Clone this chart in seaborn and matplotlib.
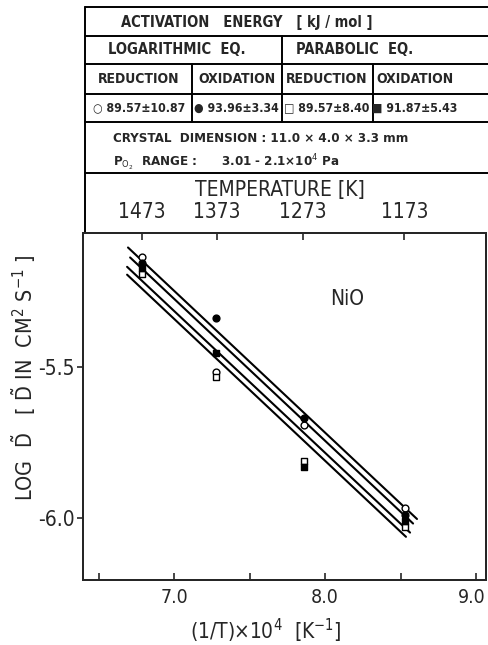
import numpy as np
import matplotlib
matplotlib.use('Agg')
import matplotlib.pyplot as plt
import seaborn as sns
from matplotlib.ticker import FixedLocator
from matplotlib.transforms import ScaledTranslation

# inverse temperature (1/T)x10^4 of the four runs
inv_t = [6.79, 7.28, 7.86, 8.53]
temps_top = [1473, 1373, 1273, 1173]

# log D values
log_red = [-5.136, -5.517, -5.692, -5.967]    # open circle
log_oxi = [-5.156, -5.338, -5.669, -5.990]    # filled circle
par_red = [-5.192, -5.533, -5.811, -6.030]    # open square
par_oxi = [-5.172, -5.454, -5.831, -6.010]    # filled square

# fitted lines: (x0, x1, y0, y1)
fit_lines = [
    (6.695, 8.609, -5.104, -6.003),
    (6.709, 8.583, -5.137, -6.018),
    (6.689, 8.563, -5.168, -6.048),
    (6.689, 8.536, -5.194, -6.062),
]

sns.set_style('ticks')
plt.rcParams['font.family'] = ['DejaVu Sans']
plt.rcParams['font.stretch'] = 'condensed'
plt.rcParams['mathtext.fontset'] = 'custom'
plt.rcParams['mathtext.rm'] = 'DejaVu Sans:stretch=condensed'
plt.rcParams['mathtext.it'] = 'DejaVu Sans:stretch=condensed:style=oblique'
plt.rcParams['mathtext.bf'] = 'DejaVu Sans:stretch=condensed:weight=bold'
plt.rcParams['axes.unicode_minus'] = False

W, H = 488, 645
fig = plt.figure(figsize=(W / 100, H / 100), dpi=100)

# overlay in pixel coords for the table header
ov = fig.add_axes([0, 0, 1, 1])
ov.set_xlim(0, W)
ov.set_ylim(H, 0)
ov.axis('off')

L, R, T, B = 83, 486, 233, 580
ax = fig.add_axes([L / W, 1 - B / H, (R - L) / W, (B - T) / H])
ax.set_facecolor('none')

lw = 1.4
for x0, x1, y0, y1 in fit_lines:
    sns.lineplot(x=[x0, x1], y=[y0, y1], color='black', lw=1.5, ax=ax)

series = [
    (log_red, 'o', 'white'),
    (log_oxi, 'o', 'black'),
    (par_red, 's', 'white'),
    (par_oxi, 's', 'black'),
]
for vals, mk, fc in series:
    sns.scatterplot(x=inv_t, y=vals, marker=mk, s=24, facecolor=fc,
                    edgecolor='black', linewidth=1.0, ax=ax, zorder=5)

ax.set_xlim(6.397, 9.066)
ax.set_ylim(-6.205, -5.056)
ax.set_xticks([7.0, 8.0, 9.0])
ax.set_xticklabels(['7.0', '8.0', '9.0'])
ax.xaxis.set_minor_locator(FixedLocator([6.5, 7.5, 8.5]))
ax.set_yticks([-5.5, -6.0])
ax.set_yticklabels(['-5.5', '-6.0'])
ax.tick_params(axis='x', which='both', direction='in', length=5, width=1.2,
               labelsize=14, pad=6)
ax.tick_params(axis='y', direction='out', length=4, width=1.2, labelsize=15, pad=2)
for s in ax.spines.values():
    s.set_linewidth(lw)
ax.set_xlabel('')
ax.set_ylabel('')
# last label sits against the right edge, as in the scan
last = ax.get_xticklabels()[-1]
last.set_transform(last.get_transform() + ScaledTranslation(-3 / 72, 0, fig.dpi_scale_trans))

top = ax.twiny()
top.set_xlim(ax.get_xlim())
top.set_xticks([1e4 / t for t in temps_top])
top.set_xticklabels([str(t) for t in temps_top])
top.tick_params(axis='x', direction='in', length=5, width=1.2, labelsize=15, pad=8)
for s in top.spines.values():
    s.set_linewidth(lw)

ax.text(0.655, 0.81, 'NiO', transform=ax.transAxes, fontsize=15,
        ha='center', va='center')

# table header
for y in [7, 36, 64, 94, 122, 173]:
    ov.plot([85, W], [y, y], color='black', lw=lw)
ov.plot([85, 85], [7, T], color='black', lw=lw)
ov.plot([282, 282], [36, 122], color='black', lw=lw)
for x in [192, 373]:
    ov.plot([x, x], [64, 122], color='black', lw=lw)

tk = dict(ha='center', va='center', fontsize=10, fontweight='bold')
ov.text(247, 22, 'ACTIVATION   ENERGY   [ kJ / mol ]', **dict(tk, fontsize=10.5))
ov.text(177, 50, 'LOGARITHMIC  EQ.', **dict(tk, fontsize=10.5))
ov.text(355, 50, 'PARABOLIC  EQ.', **dict(tk, fontsize=10.5))
for x, s in [(139, 'REDUCTION'), (237, 'OXIDATION'), (327, 'REDUCTION'), (415, 'OXIDATION')]:
    ov.text(x, 79, s, **tk)
vk = dict(tk, fontsize=8.8)
ov.text(139, 108, '○ 89.57±10.87', **vk)
ov.text(236, 108, '● 93.96±3.34', **vk)
ov.text(327, 108, '□ 89.57±8.40', **vk)
ov.text(415, 108, '■ 91.87±5.43', **vk)
ov.text(113, 138, 'CRYSTAL  DIMENSION : 11.0 × 4.0 × 3.3 mm', ha='left', va='center',
        fontsize=9.5, fontweight='bold')
ov.text(113, 163, r'P$_{\mathrm{O_2}}$  RANGE :      3.01 - 2.1×10$^{4}$ Pa', ha='left',
        va='center', fontsize=9.5, fontweight='bold')
ov.text(280, 190, 'TEMPERATURE [K]', ha='center', va='center', fontsize=15)

ov.text(24, 378, r'LOG  $\tilde{\mathrm{D}}$   [ $\tilde{\mathrm{D}}$ IN  CM$^2$ S$^{-1}$ ]',
        rotation=90, ha='center', va='center', fontsize=15.5)
ov.text(266, 631, r'(1/T)×10$^4$  [K$^{-1}$]', ha='center', va='center', fontsize=15)

fig.savefig('out.png', dpi=100)
